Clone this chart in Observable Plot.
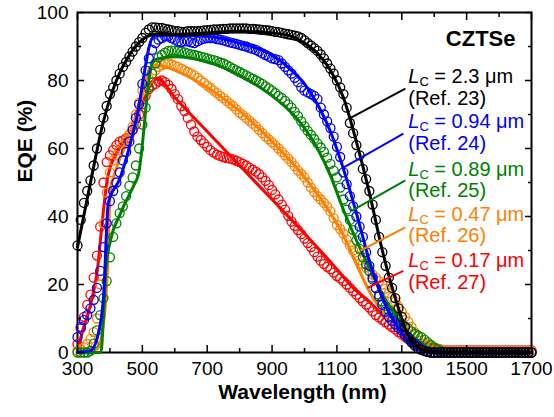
<!DOCTYPE html>
<html><head><meta charset="utf-8">
<script src="https://cdn.jsdelivr.net/npm/d3@7"></script>
<script src="https://cdn.jsdelivr.net/npm/@observablehq/plot@0.6"></script>
<style>body{margin:0;background:#fff}</style>
</head><body><div id="chart"></div>
<script>
// ---- data (EQE %, read every 10 nm) ----
const wavelength = [
 300,310,320,330,340,350,360,370,380,390,
 400,410,420,430,440,450,460,470,480,490,
 500,510,520,530,540,550,560,570,580,590,
 600,610,620,630,640,650,660,670,680,690,
 700,710,720,730,740,750,760,770,780,790,
 800,810,820,830,840,850,860,870,880,890,
 900,910,920,930,940,950,960,970,980,990,
 1000,1010,1020,1030,1040,1050,1060,1070,1080,1090,
 1100,1110,1120,1130,1140,1150,1160,1170,1180,1190,
 1200,1210,1220,1230,1240,1250,1260,1270,1280,1290,
 1300,1310,1320,1330,1340,1350,1360,1370,1380,1390,
 1400,1410,1420,1430,1440,1450,1460,1470,1480,1490,
 1500,1510,1520,1530,1540,1550,1560,1570,1580,1590,
 1600,1610,1620,1630,1640,1650,1660,1670,1680,1690,
 1700];

const eqeBlack = [
 31.5,39,44,47.5,50.6,55,60,65.5,69,72.5,
 76,78,80,82,84,85.5,87,88.5,90,91.3,
 92.5,94,95,95.6,95.6,95.5,95.5,95.2,95,94.8,
 94.5,94.5,94.3,94.3,94.5,94.5,94.5,94.5,94.6,94.7,
 94.8,94.9,95,95,95.1,95.2,95.2,95.3,95.3,95.3,
 95.3,95.3,95.3,95.2,95.2,95.1,95,94.9,94.8,94.7,
 94.5,94.3,94.2,94,93.8,93.6,93.4,93.2,93,92.5,
 91.8,91,90.3,89.5,88.7,87.7,86.5,85,83.5,82,
 80,78,76,72,67.5,64.5,61,58,54,51,
 47.5,43.5,39,34,29.5,25.5,22,19,16,13,
 10.5,7.5,4.5,3,2,1.2,0.8,0.4,0.2,0,
 0,0,0,0,0,0,0,0,0,0,
 0,0,0,0,0,0,0,0,0,0,
 0,0,0,0,0,0,0,0,0,0,
 0];
const eqeBlue = [
 4.5,7.5,9.5,11,13,15.5,19,24,31,38,
 44.5,47.5,50,53,56.5,59,62,65.5,69,73,
 79,83,86.5,89,91,92,92.5,93,93,92.5,
 92,91.5,91.3,91.5,91.5,91.2,91,91.5,92,92.3,
 92.5,92.5,92.5,92.2,92,91.8,91.5,91.2,91,90.8,
 90.5,90.2,90,89.6,89.3,89,88.5,88,87.5,87,
 86.5,86.3,86,85,84,83,82,80.8,79.5,78,
 77,76.5,76,75.5,74.5,72,70,68,66,63.5,
 60.5,57.5,53,49.5,46,43,40,37,34,29.5,
 25.5,22,19,16.5,14,12,10.5,9.3,8.3,7.3,
 6.5,5.2,4,3.2,2.5,1.8,1,0.5,0.2,0,
 0,0,0,0,0,0,0,0,0,0,
 0,0,0,0,0,0,0,0,0,0,
 0,0,0,0,0,0,0,0,0,0,
 0];
const eqeGreen = [
 0,0,0,0,0.5,2.6,6.5,11,16,21,
 28,34,38,41,43,46,49,51.5,55,60,
 67,72,78,82,85,86.8,87.5,88.2,88.7,88.8,
 88.8,88.7,88.5,88.3,88,87.7,87.5,87.3,87,86.8,
 86.5,86.2,86,85.7,85.3,85,84.5,84,83.5,83,
 82.5,82,81.5,81,80.5,80,79.5,79,78.3,77.7,
 77,76.3,75.5,74.8,74,73,72,70.8,69.5,68,
 66.5,65.2,64,62.8,61.5,60.3,59,57.3,55.5,53.5,
 51.5,48.5,45,42,39,36,33,30.5,28,26,
 24,21.5,19,17,15,13.7,12.5,11.5,10.5,9.5,
 8.5,7.7,7,6.2,5.5,5,4.5,3.8,3,2.2,
 1.5,1,0.5,0.2,0,0,0,0,0,0,
 0,0,0,0,0,0,0,0,0,0,
 0,0,0,0,0,0,0,0,0,0,
 0];
const eqeOrange = [
 0.5,1,1.5,2.5,4,6,10,20,38,47,
 53,56.5,58,59.5,61,62.5,64,66.5,70,73.5,
 77,79,80.5,82,83,84,84.5,84.8,85,84.7,
 84.3,84,83.5,83,82.5,82,81.5,80.8,80,79.3,
 78.5,77.8,77,76.3,75.5,74.8,74,73.2,72.5,71.5,
 70.5,69.8,69,68.2,67.3,66.5,65.5,64.5,63.5,62.7,
 61.8,61,60,59,58,57,56,54.8,53.5,52.5,
 51.5,50,48.5,47.2,46,45,44,43,41.5,39.5,
 37.5,36.3,35,33.2,31.5,30,28.5,27.2,26,25,
 24,23,22,21,20,18.8,17.5,16.2,15,13.5,
 12,10.5,9,7.5,6,4.7,3.5,2.7,2,1.7,
 1.5,1.2,1,0.8,0.6,0.5,0.5,0.5,0.5,0.5,
 0.5,0.5,0.5,0.5,0.5,0.5,0.5,0.5,0.5,0.5,
 0.5,0.5,0.5,0.5,0.5,0.5,0.5,0.5,0.5,0.5,
 0.5];
const eqeRed = [
 2.5,7,10.5,14,17,22,28.5,37,50,56,
 58,59.5,61,62,62.4,63,64,65.5,67,70,
 73,75.5,77.5,78.5,79,79.7,80,79.5,78.7,77.5,
 76,74.5,72.5,71,69,67,65,63.5,62.5,61.5,
 60.5,59.5,58.8,58.2,57.8,57.5,57.2,57,56.8,56.4,
 56,55.5,55,54.4,53.8,53.2,52.5,51.5,50.5,49.2,
 47.8,46.5,45,43.5,42,40.2,38.5,37.2,36,34.8,
 33.5,32.2,31,29.5,28.2,27,26,25.2,24.5,23.5,
 22.5,21.8,21,20,19,18,17,16,15,14.1,
 13.2,12.1,11,10.3,9.6,8.9,8.2,7.5,6.8,6,
 5.3,4.6,4,3.5,3,2.5,2,1.7,1.5,1.2,
 1,0.9,0.8,0.7,0.6,0.6,0.6,0.6,0.6,0.6,
 0.6,0.6,0.6,0.6,0.6,0.6,0.6,0.6,0.6,0.6,
 0.6,0.6,0.6,0.6,0.6,0.6,0.6,0.6,0.6,0.6,
 0.6];

// fitted curves
const blackFitW = [300,340,380,420,460,500,540,600,700,800,900,960,1000,1040,1080,1120,1160,1200,1240,1280,1320,1360,1400,1700];
const blackFitV = [31,50,68,80,87.5,92,93.5,93.5,94,94.5,94,93,91,88,83,75,62,47,30,16,5,1,0,0];
const blueFitW = [300,340,360,380,395,430,480,535,600,700,800,900,960,1000,1040,1080,1120,1160,1200,1240,1280,1320,1360,1400,1700];
const blueFitV = [0,0.5,4,16,44,51,68,93,93.3,93,91,87.5,83,79,73,65,54,41,27,16,8.5,3.5,1,0,0];
const greenFitW = [300,372,381,388,402,433,473,487,530,550,600,700,800,900,960,1000,1040,1080,1120,1160,1200,1240,1280,1320,1360,1400,1440,1700];
const greenFitV = [0,0,12,25,33,41,49,52,85,86.5,87,85.5,81.5,75.5,70.5,66,60,52,42,33,25,17,11,5.5,2.5,0.5,0,0];
const orangeFitW = [300,360,377,386,392,402,411,454,485,503,525,545,600,700,800,900,960,1000,1040,1080,1120,1160,1200,1240,1280,1320,1360,1400,1450,1500,1700];
const orangeFitV = [0,1,6.5,14,24,48.5,51.5,63,71,77,84,84.5,83,78,71,62,56,51.5,46.5,41,34.5,26,18,12,7,4,2.5,1.5,1.2,0.5,0.5];
const redFitW = [300,309,340,361,377,392,423,463,503,534,548,600,700,800,900,1000,1100,1150,1200,1250,1300,1350,1400,1450,1700];
const redFitV = [0,4,14,24,39,51,59,65,74,80,80.5,75,65,55,45,35,24.5,19,15,10,5,2,1,0.5,0.5];

// labels and leader lines
const lcValues = [" = 2.3 \u03bcm", " = 0.94 \u03bcm", " = 0.89 \u03bcm", " = 0.47 \u03bcm", " = 0.17 \u03bcm"];
const refLabels = ["(Ref. 23)", "(Ref. 24)", "(Ref. 25)", "(Ref. 26)", "(Ref. 27)"];
const labelW = 1320;
const refBaseline = [72.9, 59.6, 45.7, 32.4, 18.8];
const leaderFrom = [[1142,69],[1120,54.4],[1148,41.8],[1173,30],[1194,19]];
const leaderTo = [[1311,77.6],[1305,64.4],[1311,50.6],[1311,36.8],[1305,24]];

const xMajor = [300,500,700,900,1100,1300,1500,1700];
const xMinor = [400,600,800,1000,1200,1400,1600];
const yMajor = [0,20,40,60,80,100];
const yMinor = [10,30,50,70,90];

// ---- build ----
const colors = ["#000000","#0000ff","#008000","#ff8000","#ff0000"];
const pts = [eqeBlack, eqeBlue, eqeGreen, eqeOrange, eqeRed];
const fits = [[blackFitW,blackFitV],[blueFitW,blueFitV],[greenFitW,greenFitV],[orangeFitW,orangeFitV],[redFitW,redFitV]];

const font = "Liberation Sans, Arial, Helvetica, sans-serif";
const marks = [Plot.frame({stroke:"black", strokeWidth:2})];

for (const i of [4,3,2,1,0]) {
  const dots = wavelength.map((w,j) => ({w, v: pts[i][j]}));
  const line = fits[i][0].map((w,j) => ({w, v: fits[i][1][j]}));
  marks.push(Plot.dot(dots, {x:"w", y:"v", r:4.5, stroke:colors[i], strokeWidth:1.3, fill:"none"}));
  marks.push(Plot.line(line, {x:"w", y:"v", stroke:colors[i], strokeWidth:3, curve:"monotone-x"}));
}
for (let i = 0; i < 5; i++) {
  marks.push(Plot.link([0], {x1: () => leaderFrom[i][0], y1: () => leaderFrom[i][1], x2: () => leaderTo[i][0], y2: () => leaderTo[i][1], stroke: colors[i], strokeWidth: 2}));
  marks.push(Plot.text([0], {x: () => labelW, y: () => refBaseline[i], text: () => lcValues[i] + "\n" + refLabels[i], fill: colors[i], fontSize: 20, textAnchor: "start", lineAnchor: "bottom", lineHeight: 1.08}));
}

const fmt = d => String(d);
marks.push(Plot.axisX(xMajor, {anchor:"bottom", tickSize:0, tickPadding:9, fontSize:19, label:null, tickFormat: fmt}));
marks.push(Plot.axisY(yMajor, {anchor:"left", tickSize:0, tickPadding:9, fontSize:19, label:null, tickFormat: fmt}));
for (const a of ["bottom","top"]) {
  marks.push(Plot.axisX(xMajor, {anchor:a, tickSize:-7, tickFormat:() => "", label:null, strokeWidth:1.5}));
  marks.push(Plot.axisX(xMinor, {anchor:a, tickSize:-4, tickFormat:() => "", label:null, strokeWidth:1.5}));
}
for (const a of ["left","right"]) {
  marks.push(Plot.axisY(yMajor, {anchor:a, tickSize:-7, tickFormat:() => "", label:null, strokeWidth:1.5}));
  marks.push(Plot.axisY(yMinor, {anchor:a, tickSize:-4, tickFormat:() => "", label:null, strokeWidth:1.5}));
}

marks.push(Plot.text(["EQE (%)"], {frameAnchor:"left", dx:-52, rotate:-90, fontSize:21, fontWeight:"bold", fill:"black"}));
marks.push(Plot.text(["Wavelength (nm)"], {frameAnchor:"bottom", dy:46, dx:-2, fontSize:21, fontWeight:"bold", fill:"black"}));
marks.push(Plot.text(["CZTSe"], {frameAnchor:"top-right", dx:-16, dy:33, textAnchor:"end", lineAnchor:"bottom", fontSize:22, fontWeight:"bold", fill:"black"}));

const plot = Plot.plot({
  width: 554, height: 417,
  marginLeft: 77, marginRight: 23, marginTop: 12, marginBottom: 65,
  x: {domain: [300,1700]},
  y: {domain: [0,100]},
  style: {fontFamily: font, fontSize: "19px", color: "black", background: "white", overflow: "visible"},
  marks
});

// italic L with subscript C
d3.select(plot).selectAll("tspan").filter(function(){ return this.textContent.startsWith(" = "); }).each(function(){
  const rest = this.textContent;
  const t = d3.select(this);
  t.text(null);
  t.append("tspan").attr("font-style","italic").text("L");
  t.append("tspan").attr("font-size","13").attr("dy","3").text("C");
  t.append("tspan").attr("dy","-3").text(rest);
});

document.getElementById("chart").appendChild(plot);
</script>
</body></html>
